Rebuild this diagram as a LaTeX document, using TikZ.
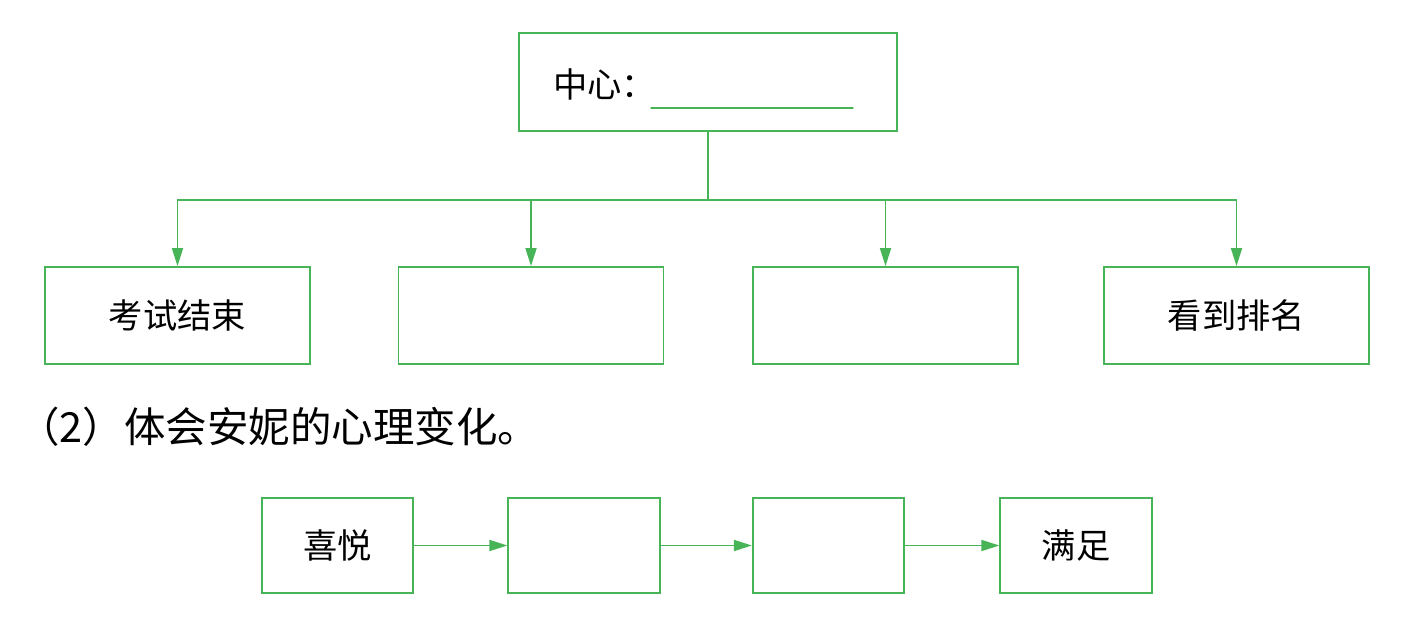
\documentclass[tikz,border=0pt]{standalone}
\usepackage{fontspec}
\setmainfont{Noto Sans CJK SC}
\usetikzlibrary{arrows.meta}
\definecolor{boxgreen}{RGB}{72,180,88}

\begin{document}
\begin{tikzpicture}[>={Triangle[length=3.6mm,width=2.2mm]},line cap=round,
  box/.style={draw=boxgreen,line width=1pt,minimum width=5.3cm,minimum height=1.94cm,inner sep=0pt,font=\fontsize{19.5}{20}\selectfont},
  small box/.style={box,minimum width=3.03cm,minimum height=1.9cm},
  link/.style={draw=boxgreen,line width=1pt}]
\useasboundingbox (0,0) rectangle (28.56,-12.48);
% top box
\node[box,minimum width=7.56cm,minimum height=1.96cm] (centre) at (14.16,-1.64) {};
\node[anchor=west,inner sep=0pt,font=\fontsize{19.5}{20}\selectfont] (centre label) at (11.06,-1.68) {中心：};
\draw[link,line width=0.8pt] (13.02,-2.16) -- (17.06,-2.16);
\coordinate (bus) at (14.16,-4.0);
% four events
\node[box] (end exam) at (3.55,-6.31) {考试结束};
\node[box] (event two) at (10.62,-6.31) {};
\node[box] (event three) at (17.71,-6.31) {};
\node[box] (see rank) at (24.73,-6.31) {看到排名};
\foreach \b in {end exam,event two,event three,see rank}
  \draw[link,->] (centre.south) -- (centre.south |- bus) -| (\b.north);
% question
\node[anchor=west,inner sep=0pt,font=\fontsize{23.6}{24}\selectfont] (question) at (0.36,-8.54) {（2）体会安妮的心理变化。};
% feelings
\node[small box] (joy) at (6.75,-10.91) {喜悦};
\node[small box] (mood two) at (11.68,-10.91) {};
\node[small box] (mood three) at (16.57,-10.91) {};
\node[small box] (content) at (21.52,-10.91) {满足};
\draw[link,->] (joy) -- (mood two);
\draw[link,->] (mood two) -- (mood three);
\draw[link,->] (mood three) -- (content);
\end{tikzpicture}
\end{document}
